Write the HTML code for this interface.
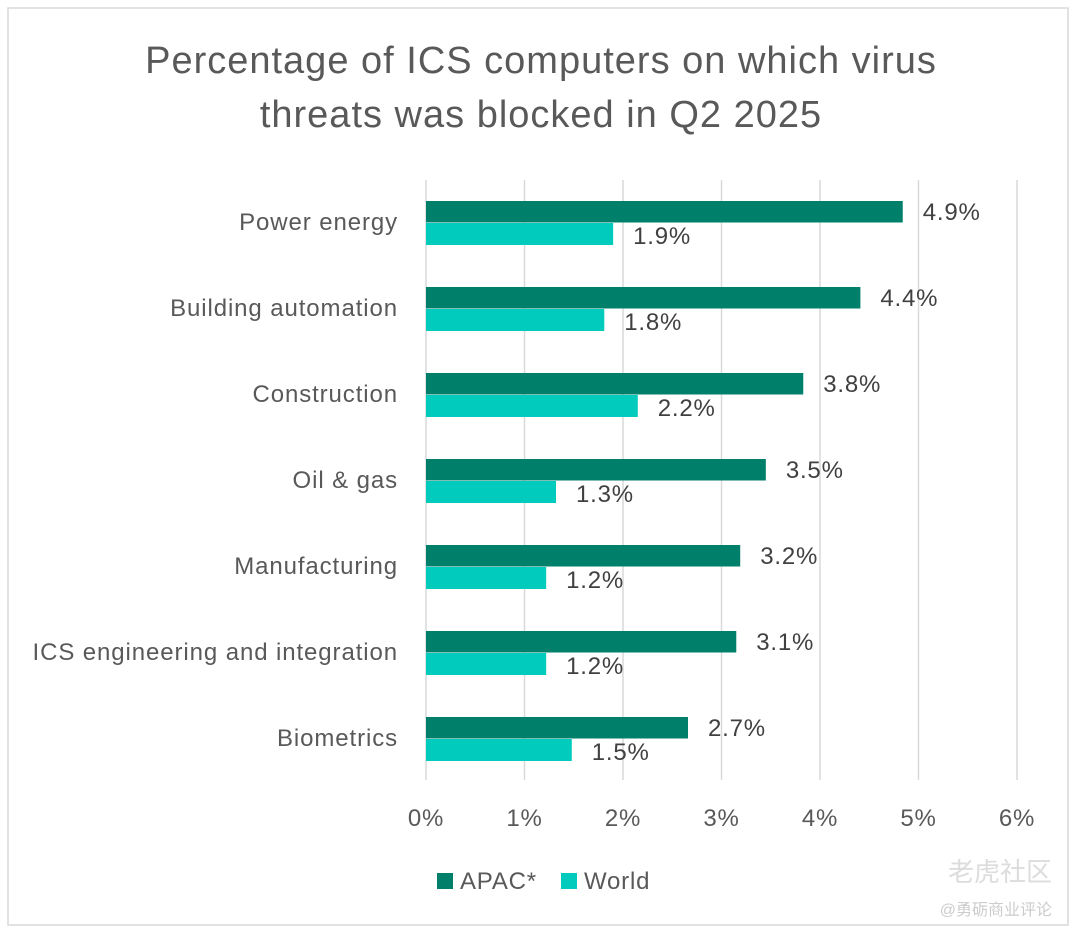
<!DOCTYPE html>
<html><head><meta charset="utf-8"><style>
body{margin:0;background:#fff;width:1074px;height:934px;overflow:hidden}
svg{display:block}
text{font-family:"Liberation Sans","Noto Sans CJK SC",sans-serif}
</style></head><body>
<svg id="chart" width="1074" height="934">
<rect x="8" y="8" width="1060" height="917" fill="#fff" stroke="#d9d9d9" stroke-width="1.5"/>
<text x="541" y="73" text-anchor="middle" font-size="38" letter-spacing="1" fill="#595959">Percentage of ICS computers on which virus</text>
<text x="541" y="127" text-anchor="middle" font-size="38" letter-spacing="1" fill="#595959">threats was blocked in Q2 2025</text>
<g id="grid"></g><g id="bars"></g><g id="labels"></g>
<g>
<rect x="437" y="873" width="16" height="16" fill="#007f6b"/>
<text x="460" y="889" font-size="24" letter-spacing="0.8" fill="#595959">APAC*</text>
<rect x="561" y="873" width="16" height="16" fill="#00cbbd"/>
<text x="584" y="889" font-size="24" letter-spacing="0.8" fill="#595959">World</text>
</g>
<text x="1052" y="881" text-anchor="end" font-size="26" fill="#dcdcdc">老虎社区</text>
<text x="1052" y="915" text-anchor="end" font-size="16" fill="#cccccc">@勇砺商业评论</text>
</svg>
<script>
const categories=["Power energy","Building automation","Construction","Oil & gas","Manufacturing","ICS engineering and integration","Biometrics"];
const apacValues=[4.84,4.41,3.83,3.45,3.19,3.15,2.66];
const worldValues=[1.90,1.81,2.15,1.32,1.22,1.22,1.48];
const apacLabels=["4.9%","4.4%","3.8%","3.5%","3.2%","3.1%","2.7%"];
const worldLabels=["1.9%","1.8%","2.2%","1.3%","1.2%","1.2%","1.5%"];
const xTicks=[0,1,2,3,4,5,6];
const tickLabels=["0%","1%","2%","3%","4%","5%","6%"];
const NS="http://www.w3.org/2000/svg";
const x0=426,x1=1017,xmax=6,yTop=180,yBot=780,band=86,firstBar=201;
const xs=v=>x0+(x1-x0)*v/xmax;
const ys=i=>firstBar+band*i;
function mk(tag,parent,attrs){const e=document.createElementNS(NS,tag);for(const k in attrs)e.setAttribute(k,attrs[k]);parent.appendChild(e);return e;}
const grid=document.getElementById('grid'),bars=document.getElementById('bars'),labels=document.getElementById('labels');
xTicks.forEach((t,i)=>{
 const l=mk('line',grid,{x1:xs(t),x2:xs(t),y1:yTop,y2:yBot,stroke:'#d9d9d9','stroke-width':1.5});
 
 
 const tx=mk('text',grid,{x:xs(t),y:826,'text-anchor':'middle','font-size':24,'letter-spacing':0.8,fill:'#595959'});
 tx.textContent=tickLabels[i];
 
 
});
categories.forEach((c,i)=>{
 const y=ys(i);
 const a=mk('rect',bars,{x:x0,y:y,width:xs(apacValues[i])-x0,height:21.5,fill:'#007f6b'});
 
 
 const w=mk('rect',bars,{x:x0,y:y+22,width:xs(worldValues[i])-x0,height:22,fill:'#00cbbd'});
 
 
 const cl=mk('text',labels,{x:398,y:y+29,'text-anchor':'end','font-size':24,'letter-spacing':0.9,fill:'#595959'});
 cl.textContent=c;
 
 
 const al=mk('text',labels,{x:xs(apacValues[i])+20,y:y+19,'font-size':24,'letter-spacing':0.8,fill:'#404040'});
 al.textContent=apacLabels[i];
 
 
 const wl=mk('text',labels,{x:xs(worldValues[i])+20,y:y+43,'font-size':24,'letter-spacing':0.8,fill:'#404040'});
 wl.textContent=worldLabels[i];
 
 
});
</script>
</body></html>
